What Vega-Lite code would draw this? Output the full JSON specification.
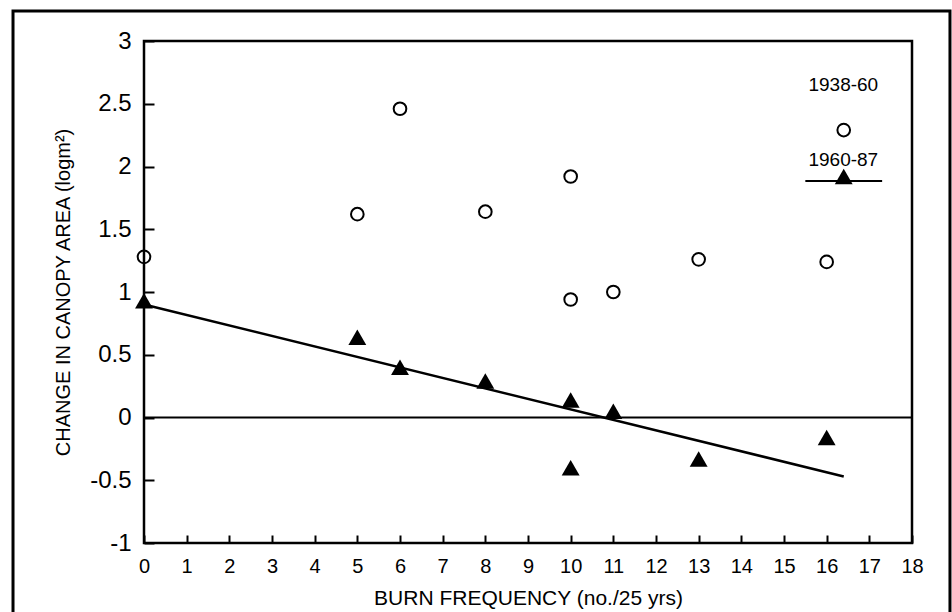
{
  "$schema": "https://vega.github.io/schema/vega-lite/v6.json",
  "width": 768,
  "height": 502,
  "autosize": {"type": "none"},
  "padding": {"left": 144, "top": 41, "right": 40, "bottom": 69},
  "background": "white",
  "config": {
    "view": {"stroke": "black", "strokeWidth": 2.5},
    "font": "Liberation Sans",
    "axis": {"grid": false, "domain": false, "tickColor": "black", "tickWidth": 2, "labelColor": "black", "titleColor": "black", "titleFontWeight": "normal", "labelFont": "Liberation Sans", "titleFont": "Liberation Sans", "labelFlush": false},
    "axisX": {"labelFontSize": 20, "labelPadding": 13, "titleFontSize": 21, "titlePadding": 11, "tickSize": 8},
    "axisY": {"labelFontSize": 24, "labelPadding": 13, "titleFontSize": 20, "titlePadding": 16, "tickSize": 10}
  },
  "datasets": {
    "points": [
      {"series": "1938-60", "x": 0, "y": 1.28},
      {"series": "1938-60", "x": 5, "y": 1.62},
      {"series": "1938-60", "x": 6, "y": 2.46},
      {"series": "1938-60", "x": 8, "y": 1.64},
      {"series": "1938-60", "x": 10, "y": 1.92},
      {"series": "1938-60", "x": 10, "y": 0.94},
      {"series": "1938-60", "x": 11, "y": 1.0},
      {"series": "1938-60", "x": 13, "y": 1.26},
      {"series": "1938-60", "x": 16, "y": 1.24},
      {"series": "1960-87", "x": 0, "y": 0.93},
      {"series": "1960-87", "x": 5, "y": 0.64},
      {"series": "1960-87", "x": 6, "y": 0.4},
      {"series": "1960-87", "x": 8, "y": 0.29},
      {"series": "1960-87", "x": 10, "y": 0.14},
      {"series": "1960-87", "x": 10, "y": -0.4},
      {"series": "1960-87", "x": 11, "y": 0.05},
      {"series": "1960-87", "x": 13, "y": -0.33},
      {"series": "1960-87", "x": 16, "y": -0.16}
    ],
    "fit": [
      {"x": 0, "y": 0.9},
      {"x": 16.4, "y": -0.47}
    ],
    "legendSymbols": [
      {"series": "1938-60", "x": 16.4, "y": 2.29},
      {"series": "1960-87", "x": 16.4, "y": 1.92}
    ],
    "legendLine": [
      {"x": 15.5, "y": 1.885},
      {"x": 17.3, "y": 1.885}
    ],
    "legendText": [
      {"label": "1938-60", "x": 16.39, "y": 2.65},
      {"label": "1960-87", "x": 16.39, "y": 2.05}
    ]
  },
  "layer": [
    {
      "data": {"values": [{}]},
      "mark": {"type": "rect", "fill": "transparent", "stroke": "black", "strokeWidth": 3},
      "encoding": {
        "x": {"datum": -3.07, "type": "quantitative"},
        "x2": {"datum": 18.89},
        "y": {"datum": 3.24, "type": "quantitative"},
        "y2": {"datum": -1.8}
      }
    },
    {
      "data": {"name": "points"},
      "transform": [{"filter": "datum.series === '1938-60'"}],
      "mark": {"type": "point", "shape": "circle", "filled": false, "size": 160, "stroke": "black", "strokeWidth": 2, "opacity": 1},
      "encoding": {
        "x": {
          "field": "x", "type": "quantitative",
          "scale": {"domain": [0, 18], "nice": false, "zero": false},
          "axis": {
            "title": "BURN FREQUENCY (no./25 yrs)",
            "values": [0,1,2,3,4,5,6,7,8,9,10,11,12,13,14,15,16,17,18],
            "labelExpr": "'' + datum.value",
            "offset": -8
          }
        },
        "y": {
          "field": "y", "type": "quantitative",
          "scale": {"domain": [-1, 3], "nice": false, "zero": false},
          "axis": {
            "title": "CHANGE IN CANOPY AREA (logm²)",
            "values": [-1,-0.75,-0.5,-0.25,0,0.25,0.5,0.75,1,1.25,1.5,1.75,2,2.25,2.5,2.75,3],
            "labelExpr": "datum.value % 0.5 === 0 ? '' + datum.value : ''",
            "offset": -10
          }
        }
      }
    },
    {
      "data": {"name": "points"},
      "transform": [{"filter": "datum.series === '1960-87'"}],
      "mark": {"type": "point", "shape": "triangle-up", "filled": true, "size": 320, "color": "black", "opacity": 1},
      "encoding": {
        "x": {"field": "x", "type": "quantitative"},
        "y": {"field": "y", "type": "quantitative"}
      }
    },
    {
      "data": {"values": [{"y": 0}]},
      "mark": {"type": "rule", "color": "black", "strokeWidth": 2},
      "encoding": {
        "y": {"field": "y", "type": "quantitative"}
      }
    },
    {
      "data": {"name": "fit"},
      "mark": {"type": "line", "color": "black", "strokeWidth": 2.5},
      "encoding": {
        "x": {"field": "x", "type": "quantitative"},
        "y": {"field": "y", "type": "quantitative"}
      }
    },
    {
      "data": {"name": "legendLine"},
      "mark": {"type": "line", "color": "black", "strokeWidth": 2},
      "encoding": {
        "x": {"field": "x", "type": "quantitative"},
        "y": {"field": "y", "type": "quantitative"}
      }
    },
    {
      "data": {"name": "legendSymbols"},
      "transform": [{"filter": "datum.series === '1938-60'"}],
      "mark": {"type": "point", "shape": "circle", "filled": false, "size": 160, "stroke": "black", "strokeWidth": 2, "opacity": 1},
      "encoding": {
        "x": {"field": "x", "type": "quantitative"},
        "y": {"field": "y", "type": "quantitative"}
      }
    },
    {
      "data": {"name": "legendSymbols"},
      "transform": [{"filter": "datum.series === '1960-87'"}],
      "mark": {"type": "point", "shape": "triangle-up", "filled": true, "size": 320, "color": "black", "opacity": 1},
      "encoding": {
        "x": {"field": "x", "type": "quantitative"},
        "y": {"field": "y", "type": "quantitative"}
      }
    },
    {
      "data": {"name": "legendText"},
      "mark": {"type": "text", "font": "Liberation Sans", "fontSize": 19, "color": "black", "align": "center", "baseline": "middle"},
      "encoding": {
        "x": {"field": "x", "type": "quantitative"},
        "y": {"field": "y", "type": "quantitative"},
        "text": {"field": "label"}
      }
    }
  ]
}
